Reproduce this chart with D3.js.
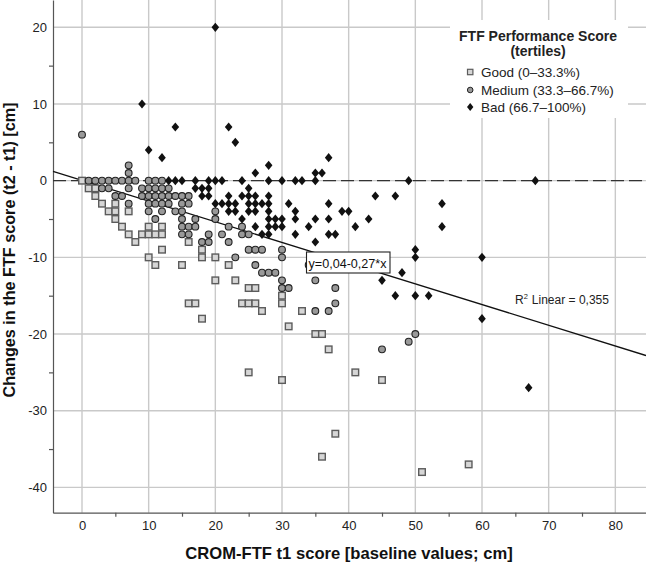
<!DOCTYPE html>
<html><head><meta charset="utf-8">
<script src="https://cdn.jsdelivr.net/npm/d3@7"></script>
<style>body{margin:0;background:#fff}svg{display:block;font-family:Arial,"Liberation Sans",sans-serif}</style>
</head><body><svg id="c" width="646" height="566"></svg>
<script>
// ---- data (x = CROM-FTF t1 score, y = change t2 - t1) ----
const goodPoints = [[0,0],[1,-1],[2,-1],[2,-2],[3,-3],[4,-4],[5,-3],[5,-4],[5,-5],[6,-6],[7,-4],[7,-7],[8,-8],[9,-7],[10,-6],[10,-7],[11,-7],[12,-6],[12,-7],[12,-9],[10,-10],[11,-11],[15,-11],[16,-8],[16,-16],[17,-16],[18,-9],[18,-10],[18,-18],[20,-10],[20,-13],[22,-11],[23,-13],[24,-16],[25,-16],[26,-16],[25,-14],[26,-14],[27,-17],[25,-25],[30,-15],[30,-16],[30,-26],[31,-19],[33,-17],[35,-20],[36,-20],[37,-22],[36,-36],[38,-33],[41,-25],[45,-26],[51,-38],[58,-37]];
const mediumPoints = [[0,6],[7,2],[7,1],
 [1,0],[2,0],[3,0],[4,0],[5,0],[6,0],[7,0],[8,0],[10,0],[11,0],[12,0],
 [3,-1],[4,-1],[7,-1],[9,-1],[10,-1],[11,-1],[12,-1],[13,-1],
 [5,-2],[6,-2],[9,-2],[10,-2],[11,-2],[12,-2],[13,-2],[14,-2],[15,-2],[16,-2],
 [7,-3],[10,-3],[11,-3],[12,-3],[13,-3],[15,-3],[16,-3],
 [10,-4],[12,-4],[14,-4],[15,-4],[20,-4],
 [11,-5],[15,-5],[17,-5],[20,-5],
 [15,-6],[16,-6],[17,-6],[22,-6],[24,-6],
 [15,-7],[16,-7],[19,-7],[21,-7],[24,-7],[25,-7],
 [18,-8],[19,-8],[22,-8],
 [25,-9],[26,-9],[27,-9],[30,-9],
 [23,-10],[30,-10],[26,-11],[34,-11],
 [27,-12],[28,-12],[29,-12],[30,-13],[35,-13],[30,-14],[31,-14],[38,-14],
 [38,-16],[35,-17],[37,-17],[50,-20],[49,-21],[45,-22]];
const badPoints = [[20,20],[9,10],[14,7],[22,7],[23,5],[10,4],[12,3],[37,3],[28,2],[26,1],[35,1],[36,1],
 [13,0],[14,0],[15,0],[17,0],[19,0],[20,0],[21,0],[24,0],[28,0],[30,0],[32,0],[33,0],[35,0],[49,0],[68,0],
 [17,-1],[18,-1],[19,-1],[25,-1],
 [18,-2],[19,-2],[22,-2],[24,-2],[25,-2],[26,-2],[28,-2],[44,-2],[47,-2],
 [20,-3],[21,-3],[22,-3],[23,-3],[25,-3],[26,-3],[27,-3],[28,-3],[31,-3],[37,-3],[54,-3],
 [22,-4],[23,-4],[25,-4],[26,-4],[28,-4],[32,-4],[39,-4],[40,-4],
 [24,-5],[28,-5],[29,-5],[30,-5],[32,-5],[35,-5],[37,-5],[43,-5],
 [26,-6],[28,-6],[29,-6],[30,-6],[34,-6],[41,-6],[54,-6],
 [27,-7],[28,-7],[32,-7],[37,-7],[38,-7],
 [35,-8],[50,-9],[50,-10],[60,-10],[48,-12],[45,-13],[47,-15],[50,-15],[52,-15],[60,-18],[67,-27]];
const fitIntercept = 0.04, fitSlope = -0.27;
const fitLabel = "y=0,04-0,27*x";
const r2Label = "0,355";
const xLabelTicks = [0,10,20,30,40,50,60,70,80];
const xMinorTicks = [5,15,25,35,45,55,65,75];
const yLabelTicks = [20,10,0,-10,-20,-30,-40];
const yMinorTicks = [15,5,-5,-15,-25,-35];
const legendTitle = ["FTF Performance Score","(tertiles)"];
const legendItems = ["Good (0\u201333.3%)","Medium (33.3\u201366.7%)","Bad (66.7\u2013100%)"];
const xTitle = "CROM-FTF t1 score [baseline values; cm]";
const yTitle = "Changes in the FTF score (t2 - t1) [cm]";

// ---- layout ----
const svg = d3.select("#c");
const L = 53, R = 646, T = 0, B = 512.7;
const x = d3.scaleLinear().domain([-4.35, 84.6]).range([L, R]);
const y = d3.scaleLinear().domain([-43.3, 23.56]).range([B, T]);
const FONT = "Arial, 'Liberation Sans', sans-serif";

const grid = svg.append("g").attr("stroke", "#c9c9c9").attr("stroke-width", 1.4);
grid.selectAll(".gx").data(xLabelTicks).join("line")
  .attr("x1", d => x(d)).attr("x2", d => x(d)).attr("y1", T).attr("y2", B);
grid.selectAll(".gy").data(yLabelTicks).join("line")
  .attr("x1", L).attr("x2", R).attr("y1", d => y(d)).attr("y2", d => y(d));

// axes
const axStyle = g => { g.select(".domain").attr("stroke", "#555").attr("stroke-width", 1.2);
  g.selectAll(".tick line").attr("stroke", "#555").attr("stroke-width", 1.2); };
const lblStyle = g => g.selectAll("text").attr("font-size", 13).attr("fill", "#222").attr("font-family", FONT);
svg.append("g").attr("transform", `translate(0,${B})`)
  .call(d3.axisBottom(x).tickValues(xMinorTicks).tickFormat("").tickSize(4).tickSizeOuter(0)).call(axStyle);
svg.append("g").attr("transform", `translate(0,${B})`)
  .call(d3.axisBottom(x).tickValues(xLabelTicks).tickFormat(d => String(d)).tickSize(0).tickPadding(8))
  .call(g => g.select(".domain").remove()).call(lblStyle);
svg.append("g").attr("transform", `translate(${L},0)`)
  .call(d3.axisLeft(y).tickValues(yMinorTicks).tickFormat("").tickSize(4).tickSizeOuter(0)).call(axStyle);
svg.append("g").attr("transform", `translate(${L},0)`)
  .call(d3.axisLeft(y).tickValues(yLabelTicks).tickFormat(d => String(d)).tickSize(0).tickPadding(6))
  .call(g => g.select(".domain").remove()).call(lblStyle);

// zero reference line
svg.append("line").attr("x1", L).attr("x2", R).attr("y1", y(0)).attr("y2", y(0))
  .attr("stroke", "#333").attr("stroke-width", 1.4).attr("stroke-dasharray", "13,5");

// regression line
const x0 = x.domain()[0], x1 = x.domain()[1];
svg.append("line").attr("x1", x(x0)).attr("y1", y(fitIntercept + fitSlope * x0))
  .attr("x2", x(x1)).attr("y2", y(fitIntercept + fitSlope * x1))
  .attr("stroke", "#111").attr("stroke-width", 1.3);

// markers
const diamondPath = (w, h) => `M0,${-h}L${w},0L0,${h}L${-w},0Z`;
svg.append("g").selectAll("rect").data(goodPoints).join("rect")
  .attr("x", d => x(d[0]) - 3.3).attr("y", d => y(d[1]) - 3.3).attr("width", 6.6).attr("height", 6.6)
  .attr("fill", "#d6d6d6").attr("stroke", "#5c5c5c").attr("stroke-width", 1.4);
svg.append("g").selectAll("circle").data(mediumPoints).join("circle")
  .attr("cx", d => x(d[0])).attr("cy", d => y(d[1])).attr("r", 3.4)
  .attr("fill", "#999").attr("stroke", "#222").attr("stroke-width", 1.1);
svg.append("g").selectAll("path").data(badPoints).join("path")
  .attr("transform", d => `translate(${x(d[0])},${y(d[1])})`)
  .attr("d", diamondPath(3.8, 4.6)).attr("fill", "#111");

// fit label box
const fx = 306.5, fy = 252;
svg.append("rect").attr("x", fx).attr("y", fy).attr("width", 83.5).attr("height", 21)
  .attr("fill", "#fff").attr("stroke", "#222").attr("stroke-width", 1.1);
svg.append("text").attr("x", fx + 2).attr("y", fy + 15.5).attr("font-size", 12.5)
  .attr("textLength", 78).attr("lengthAdjust", "spacingAndGlyphs").attr("fill", "#111").text(fitLabel);

// R2 label
const r2 = svg.append("text").attr("x", 515).attr("y", 303.5).attr("font-size", 12).attr("fill", "#222");
r2.append("tspan").text("R");
r2.append("tspan").attr("font-size", 7.5).attr("dy", -5).text("2");
r2.append("tspan").attr("dy", 5).attr("dx", 4).text("Linear = " + r2Label);

// legend
const lg = svg.append("g");
lg.append("rect").attr("x", 450).attr("y", 20).attr("width", 178).attr("height", 98).attr("fill", "#fff");
legendTitle.forEach((t, i) => lg.append("text").attr("x", 538).attr("y", 40.5 + i * 15.5)
  .attr("text-anchor", "middle").attr("font-size", 14).attr("font-weight", "bold").attr("fill", "#222").text(t));
const ly = [72, 90, 107];
lg.append("rect").attr("x", 467.5).attr("y", ly[0] - 2.7).attr("width", 5.4).attr("height", 5.4)
  .attr("fill", "#d6d6d6").attr("stroke", "#5c5c5c").attr("stroke-width", 1.2);
lg.append("circle").attr("cx", 470.2).attr("cy", ly[1]).attr("r", 2.8)
  .attr("fill", "#999").attr("stroke", "#222").attr("stroke-width", 1);
lg.append("path").attr("transform", `translate(470.2,${ly[2]})`).attr("d", diamondPath(3.2, 4)).attr("fill", "#111");
legendItems.forEach((t, i) => lg.append("text").attr("x", 481).attr("y", ly[i] + 4.6)
  .attr("font-size", 13.5).attr("fill", "#222").text(t));

// axis titles
svg.append("text").attr("x", 349).attr("y", 559).attr("text-anchor", "middle")
  .attr("font-size", 16.6).attr("font-weight", "bold").attr("fill", "#111").text(xTitle);
svg.append("text").attr("transform", "translate(15,250) rotate(-90)").attr("text-anchor", "middle")
  .attr("font-size", 16.2).attr("font-weight", "bold").attr("fill", "#111").text(yTitle);
</script></body></html>
